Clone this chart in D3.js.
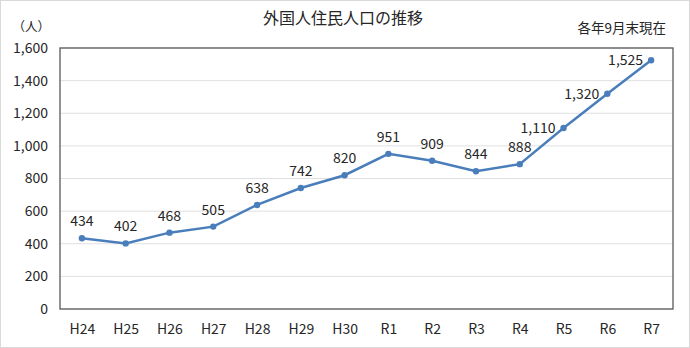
<!DOCTYPE html>
<html>
<head>
<meta charset="utf-8">
<script src="https://cdn.jsdelivr.net/npm/d3@7"></script>
<style>
  body { margin: 0; background: #fff; }
  text { font-family: "Noto Sans CJK JP", "Noto Sans", sans-serif; fill: #262626; }
</style>
</head>
<body>
<div id="chart"></div>
<script>
var years = ["H24", "H25", "H26", "H27", "H28", "H29", "H30", "R1", "R2", "R3", "R4", "R5", "R6", "R7"];
var population = [434, 402, 468, 505, 638, 742, 820, 951, 909, 844, 888, 1110, 1320, 1525];
var yTicks = [0, 200, 400, 600, 800, 1000, 1200, 1400, 1600];
// labels placed left of the point instead of above
var leftLabels = ["R5", "R6", "R7"];

var width = 690, height = 348;
var plot = { left: 60, top: 48, right: 673, bottom: 309 };
var lineColor = "#4a7ebb";

var svg = d3.select("#chart").append("svg")
    .attr("width", width)
    .attr("height", height);

// outer chart border
svg.append("rect")
    .attr("x", 0.5).attr("y", 0.5)
    .attr("width", width - 1).attr("height", height - 1)
    .attr("fill", "#fff")
    .attr("stroke", "#d9d9d9");

var xScale = d3.scalePoint()
    .domain(years)
    .range([plot.left, plot.right])
    .padding(0.5);

var yScale = d3.scaleLinear()
    .domain([0, 1600])
    .range([plot.bottom, plot.top]);

/* gridlines */
svg.append("g")
    .selectAll("line")
    .data(yTicks).enter()
    .append("line")
    .attr("x1", plot.left).attr("x2", plot.right)
    .attr("y1", d => yScale(d)).attr("y2", d => yScale(d))
    .attr("stroke", "#e0e0e0")
    .attr("stroke-width", 1);

/* plot frame */
svg.append("rect")
    .attr("x", plot.left).attr("y", plot.top)
    .attr("width", plot.right - plot.left)
    .attr("height", plot.bottom - plot.top)
    .attr("fill", "none")
    .attr("stroke", "#595959")
    .attr("stroke-width", 1.3);

/* axes */
var yAxis = d3.axisLeft(yScale).tickValues(yTicks).tickSize(0).tickPadding(12)
    .tickFormat(d3.format(","));
svg.append("g")
    .attr("transform", `translate(${plot.left}, 0)`)
    .call(yAxis)
    .call(g => g.select(".domain").remove())
    .selectAll("text")
    .style("font-size", "14px")
    .attr("fill", "#262626");

var xAxis = d3.axisBottom(xScale).tickSize(0).tickPadding(15);
svg.append("g")
    .attr("transform", `translate(0, ${plot.bottom})`)
    .call(xAxis)
    .call(g => g.select(".domain").remove())
    .selectAll("text")
    .style("font-size", "14px")
    .attr("fill", "#262626");

/* line */
var line = d3.line()
    .x((d, i) => xScale(years[i]))
    .y(d => yScale(d));

svg.append("path")
    .datum(population)
    .attr("d", line)
    .attr("fill", "none")
    .attr("stroke", lineColor)
    .attr("stroke-width", 2.5);

svg.append("g")
    .selectAll("circle")
    .data(population).enter()
    .append("circle")
    .attr("cx", (d, i) => xScale(years[i]))
    .attr("cy", d => yScale(d))
    .attr("r", 3.2)
    .attr("fill", lineColor);

/* data labels */
svg.append("g")
    .selectAll("text")
    .data(population).enter()
    .append("text")
    .attr("x", (d, i) => leftLabels.includes(years[i]) ? xScale(years[i]) - 8 : xScale(years[i]))
    .attr("y", (d, i) => leftLabels.includes(years[i]) ? yScale(d) + 5 : yScale(d) - 12)
    .attr("text-anchor", (d, i) => leftLabels.includes(years[i]) ? "end" : "middle")
    .style("font-size", "14px")
    .text(d => d3.format(",")(d));

/* titles */
svg.append("text")
    .attr("x", 343).attr("y", 24)
    .attr("text-anchor", "middle")
    .style("font-size", "16px")
    .text("外国人住民人口の推移");

svg.append("text")
    .attr("x", 50).attr("y", 31)
    .attr("text-anchor", "end")
    .style("font-size", "12.5px")
    .text("（人）");

svg.append("text")
    .attr("x", 666).attr("y", 33)
    .attr("text-anchor", "end")
    .style("font-size", "13.5px")
    .text("各年9月末現在");
</script>
</body>
</html>
